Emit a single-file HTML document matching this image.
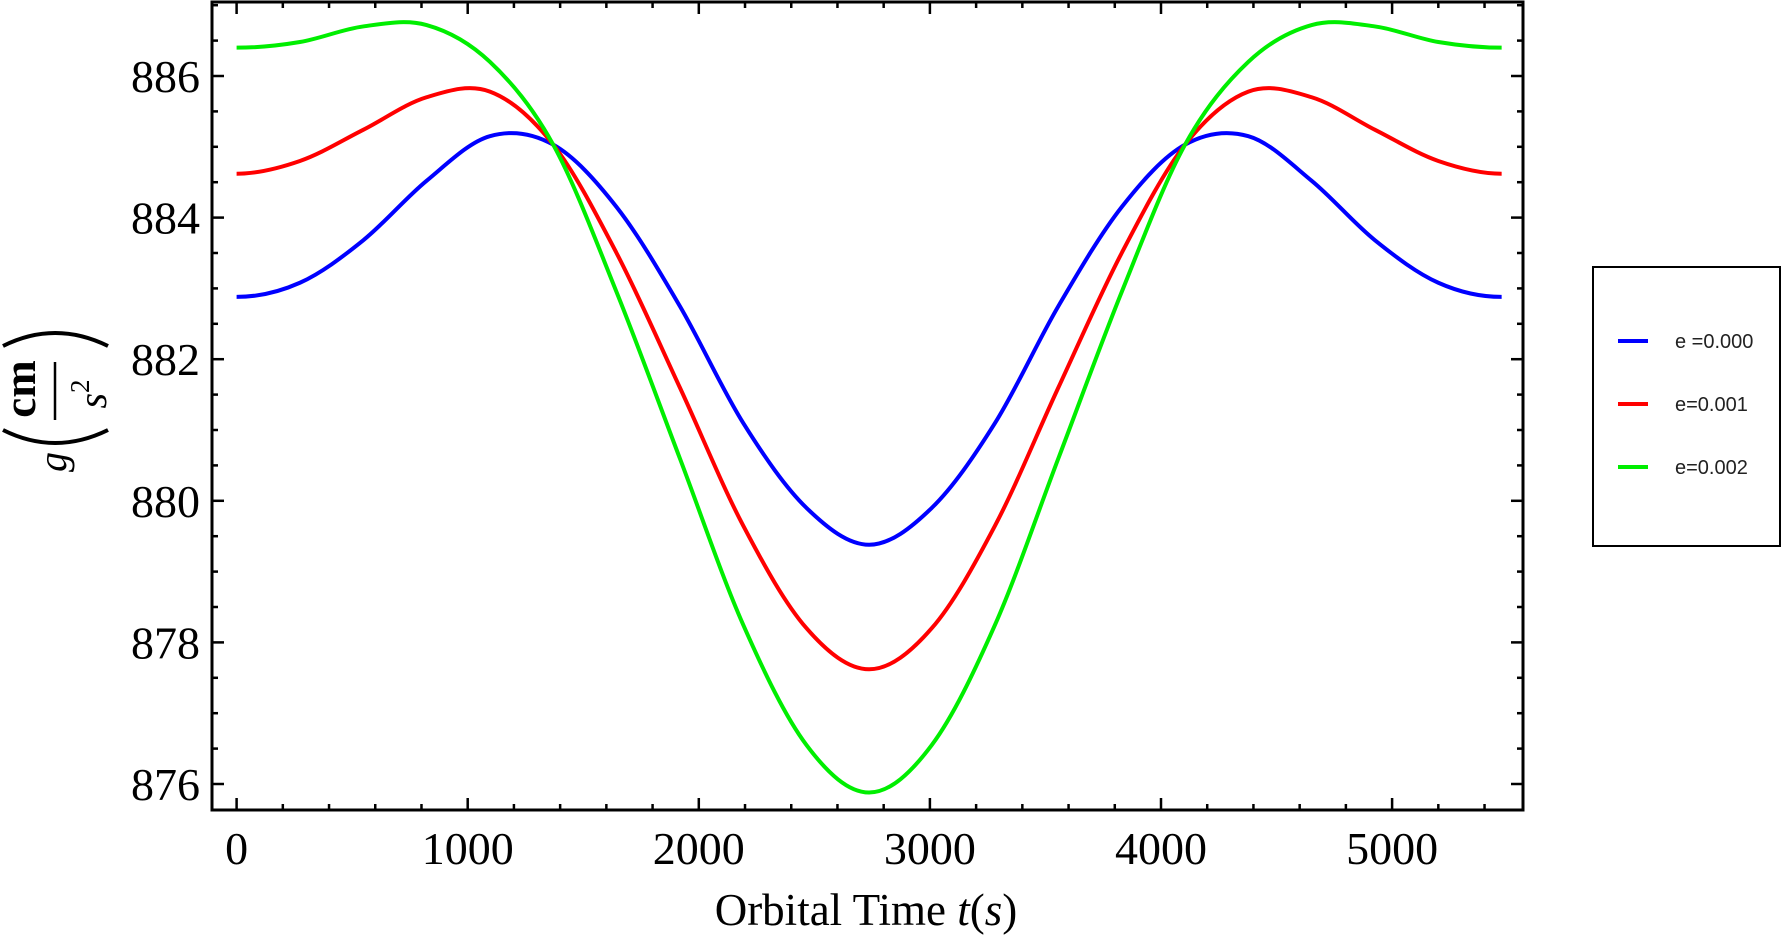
<!DOCTYPE html>
<html><head><meta charset="utf-8"><style>
html,body{margin:0;padding:0;background:#fff;}
svg{display:block;}
</style></head><body>
<svg id="chart" width="1782" height="939" viewBox="0 0 1782 939" xmlns="http://www.w3.org/2000/svg">
  <rect x="212" y="2" width="1311" height="808" fill="none" stroke="#000" stroke-width="3"/>
  <g id="ticks"></g>
  <g id="labels" font-family="Liberation Serif, serif" font-size="46" fill="#000"></g>
  <g id="series"></g>
  <text x="866" y="925" text-anchor="middle" font-family="Liberation Serif, serif" font-size="45">Orbital Time <tspan font-style="italic">t</tspan>(<tspan font-style="italic">s</tspan>)</text>
  <g font-family="Liberation Serif, serif">
    <text transform="translate(66,462) rotate(-90)" text-anchor="middle" font-size="40" font-style="italic">g</text>
    <text transform="translate(35,389) rotate(-90)" text-anchor="middle" font-size="45" font-weight="bold">cm</text>
    <line x1="55" y1="362" x2="55" y2="420" stroke="#000" stroke-width="2.5"/>
    <text transform="translate(106,394) rotate(-90)" text-anchor="middle" font-size="40"><tspan font-style="italic">s</tspan><tspan font-size="27" dy="-17">2</tspan></text>
    <path d="M 3 346 Q 55 320 108 346" fill="none" stroke="#000" stroke-width="4"/>
    <path d="M 3 430 Q 55 456 108 430" fill="none" stroke="#000" stroke-width="4"/>
  </g>
  <g>
    <rect x="1593" y="267" width="187" height="279" fill="#fff" stroke="#000" stroke-width="2"/>
    <line x1="1618" y1="341" x2="1648" y2="341" stroke="#0000ff" stroke-width="4"/>
    <text x="1675" y="348" font-family="Liberation Sans, sans-serif" font-size="20" fill="#222">e =0.000</text>
    <line x1="1618" y1="404" x2="1648" y2="404" stroke="#ff0000" stroke-width="4"/>
    <text x="1675" y="411" font-family="Liberation Sans, sans-serif" font-size="20" fill="#222">e=0.001</text>
    <line x1="1618" y1="467" x2="1648" y2="467" stroke="#00ee00" stroke-width="4"/>
    <text x="1675" y="474" font-family="Liberation Sans, sans-serif" font-size="20" fill="#222">e=0.002</text>
  </g>
</svg>
<script>
const times = [0,274,548,822,1096,1370,1644,1918,2192,2466,2737,3008,3282,3556,3830,4104,4378,4652,4926,5200,5474];
const seriesE0 = [882.88,883.08,883.68,884.52,885.15,885.03,884.15,882.75,881.1,879.9,879.38,879.9,881.1,882.75,884.15,885.03,885.15,884.52,883.68,883.08,882.88];
const seriesE1 = [884.62,884.8,885.24,885.7,885.78,885.03,883.5,881.6,879.65,878.2,877.62,878.2,879.65,881.6,883.5,885.03,885.78,885.7,885.24,884.8,884.62];
const seriesE2 = [886.4,886.48,886.7,886.72,886.2,885.03,882.95,880.6,878.25,876.55,875.88,876.55,878.25,880.6,882.95,885.03,886.2,886.72,886.7,886.48,886.4];
const xTickLabels = [0,1000,2000,3000,4000,5000];
const yTickLabels = [876,878,880,882,884,886];

const NS = 'http://www.w3.org/2000/svg';
function xs(t){ return 236.6 + t*0.2311; }
function ys(v){ return 76 + (886 - v)*70.8; }
function mk(tag, attrs, parent){ const e=document.createElementNS(NS,tag); for(const k in attrs) e.setAttribute(k,attrs[k]); parent.appendChild(e); return e; }

const tg = document.getElementById('ticks');
const lg = document.getElementById('labels');
for(let t=0; t<=5600; t+=200){
  const x = xs(t); if(x>1522) break;
  const major = (t%1000===0); const L = major?12:6;
  const a = mk('line',{x1:x,y1:810,x2:x,y2:810-L,stroke:'#000','stroke-width':2.5},tg);
  
  
  const b = mk('line',{x1:x,y1:2,x2:x,y2:2+L,stroke:'#000','stroke-width':2.5},tg);
  
  
}
for(let v=875.5; v<=887; v+=0.5){
  const y = ys(v); if(y<3||y>809) continue;
  const major = Math.abs(v-Math.round(v))<1e-6 && Math.round(v)%2===0; const L = major?12:6;
  const a = mk('line',{x1:212,y1:y,x2:212+L,y2:y,stroke:'#000','stroke-width':2.5},tg);
  
  
  const b = mk('line',{x1:1523,y1:y,x2:1523-L,y2:y,stroke:'#000','stroke-width':2.5},tg);
  
  
}
xTickLabels.forEach(t=>{
  const e = mk('text',{x:xs(t),y:864,'text-anchor':'middle'},lg);
  e.textContent = t;
  
  
});
yTickLabels.forEach(v=>{
  const e = mk('text',{x:200,y:ys(v)+16,'text-anchor':'end'},lg);
  e.textContent = v;
  
  
});
function pathFor(vals){
  const p = times.map((t,i)=>[xs(t),ys(vals[i])]);
  let d = 'M'+p[0][0].toFixed(2)+' '+p[0][1].toFixed(2);
  for(let i=0;i<p.length-1;i++){
    const p0=p[i-1]||[2*p[0][0]-p[1][0],p[1][1]], p1=p[i], p2=p[i+1], p3=p[i+2]||[2*p[i+1][0]-p[i][0],p[i][1]];
    const c1=[p1[0]+(p2[0]-p0[0])/6, p1[1]+(p2[1]-p0[1])/6];
    const c2=[p2[0]-(p3[0]-p1[0])/6, p2[1]-(p3[1]-p1[1])/6];
    d += ' C'+c1[0].toFixed(2)+' '+c1[1].toFixed(2)+' '+c2[0].toFixed(2)+' '+c2[1].toFixed(2)+' '+p2[0].toFixed(2)+' '+p2[1].toFixed(2);
  }
  return d;
}
const sg = document.getElementById('series');
const s0 = mk('path',{d:pathFor(seriesE0),fill:'none',stroke:'#0000ff','stroke-width':4},sg);


const s1 = mk('path',{d:pathFor(seriesE1),fill:'none',stroke:'#ff0000','stroke-width':4},sg);


const s2 = mk('path',{d:pathFor(seriesE2),fill:'none',stroke:'#00ee00','stroke-width':4},sg);


</script>
</body></html>
